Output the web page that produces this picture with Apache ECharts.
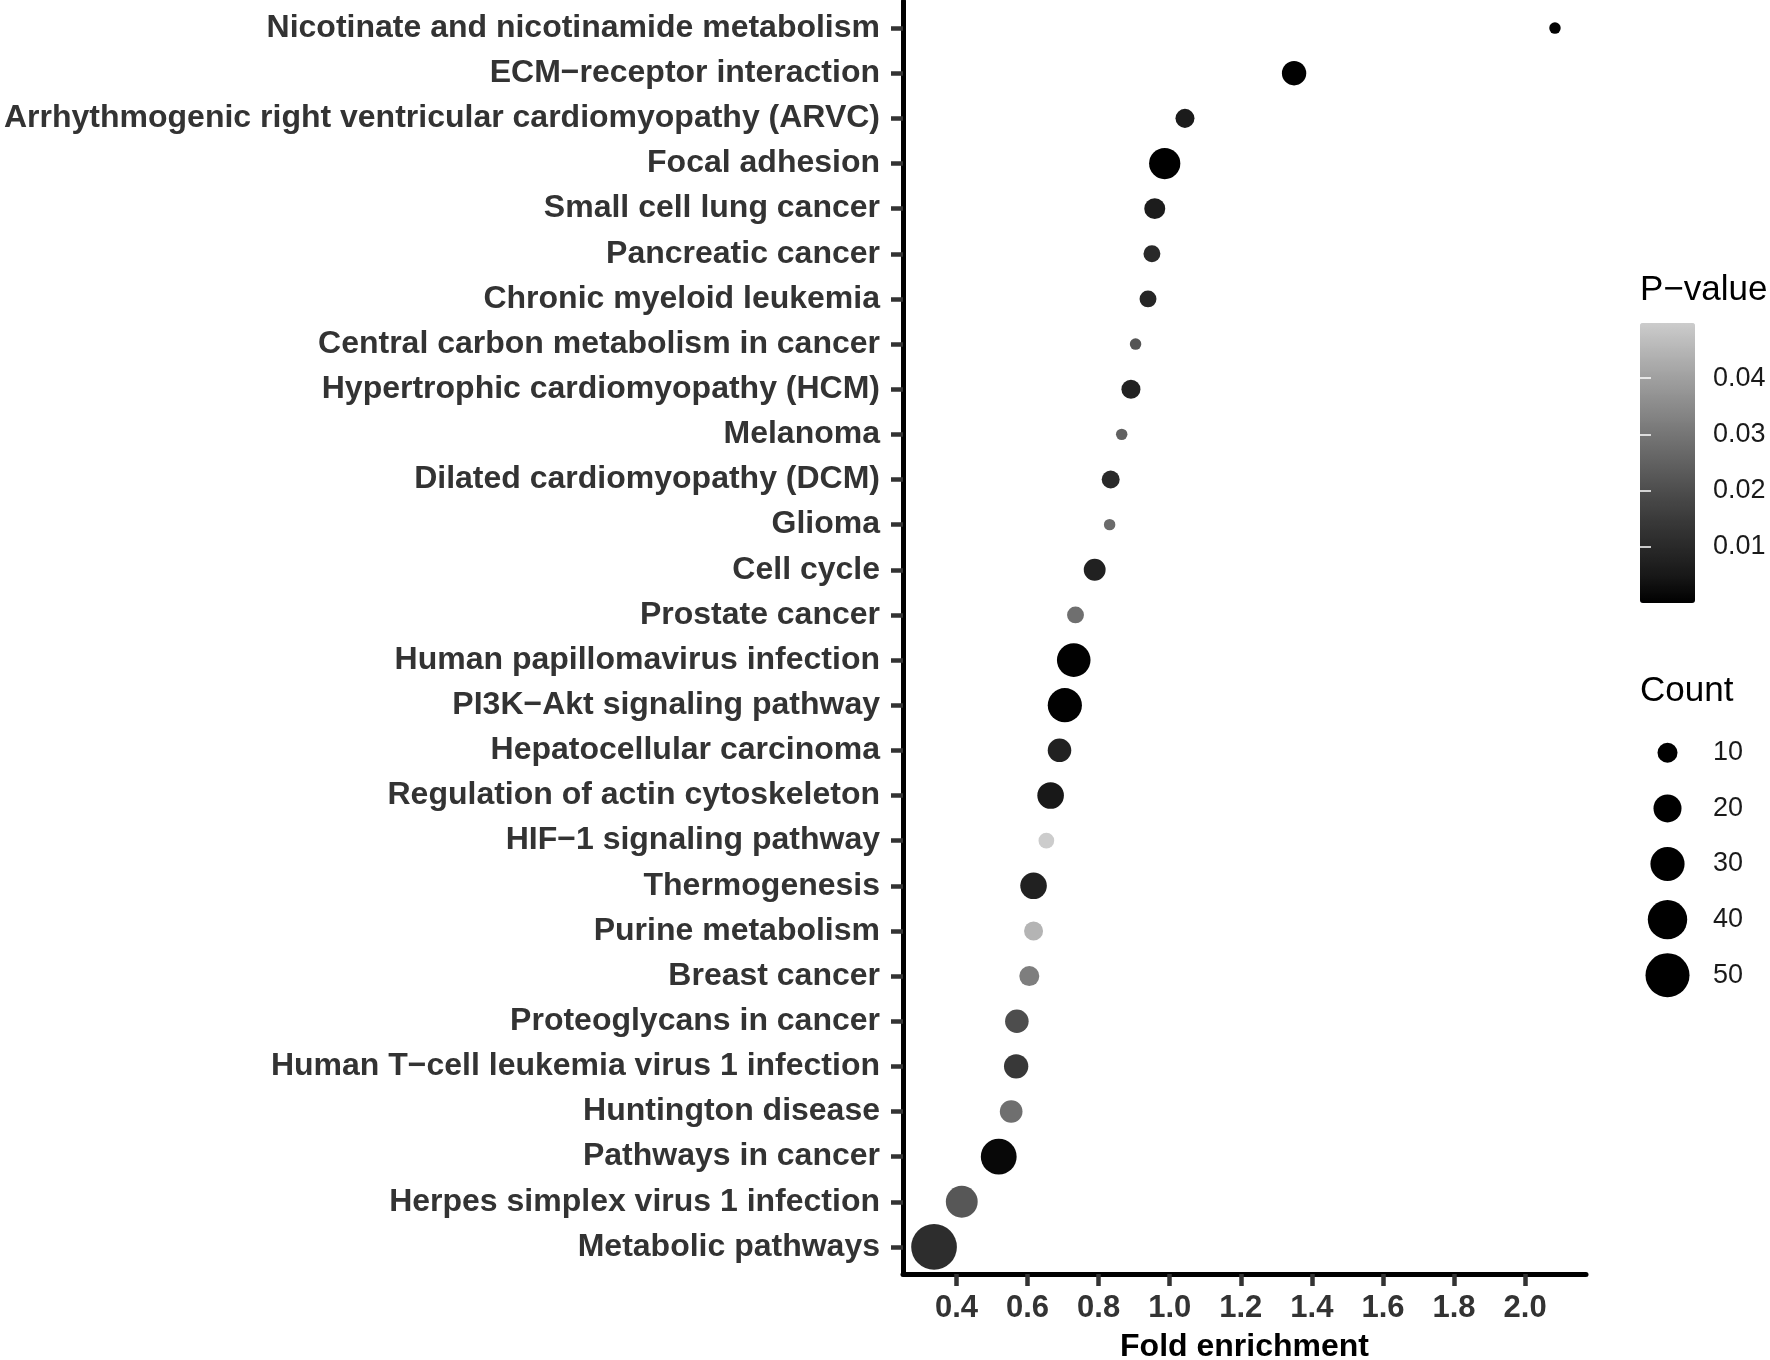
<!DOCTYPE html>
<html><head><meta charset="utf-8">
<script src="https://cdn.jsdelivr.net/npm/echarts@6/dist/echarts.min.js"></script>
<style>html,body{margin:0;padding:0;background:#fff}#c{width:1770px;height:1360px}</style>
</head><body><div id="c"></div>
<script>
// ---- data (top to bottom) ----
const categories = [
  'Nicotinate and nicotinamide metabolism',
  'ECM\u2212receptor interaction',
  'Arrhythmogenic right ventricular cardiomyopathy (ARVC)',
  'Focal adhesion',
  'Small cell lung cancer',
  'Pancreatic cancer',
  'Chronic myeloid leukemia',
  'Central carbon metabolism in cancer',
  'Hypertrophic cardiomyopathy (HCM)',
  'Melanoma',
  'Dilated cardiomyopathy (DCM)',
  'Glioma',
  'Cell cycle',
  'Prostate cancer',
  'Human papillomavirus infection',
  'PI3K\u2212Akt signaling pathway',
  'Hepatocellular carcinoma',
  'Regulation of actin cytoskeleton',
  'HIF\u22121 signaling pathway',
  'Thermogenesis',
  'Purine metabolism',
  'Breast cancer',
  'Proteoglycans in cancer',
  'Human T\u2212cell leukemia virus 1 infection',
  'Huntington disease',
  'Pathways in cancer',
  'Herpes simplex virus 1 infection',
  'Metabolic pathways'
];
const foldEnrichment = [2.084, 1.350, 1.043, 0.986, 0.958, 0.950, 0.939, 0.904, 0.891, 0.865, 0.834, 0.831, 0.789, 0.735, 0.730, 0.705, 0.690, 0.665, 0.653, 0.617, 0.617, 0.605, 0.570, 0.568, 0.554, 0.519, 0.415, 0.337];
const geneCounts = [3, 15, 9, 25, 11, 7, 7, 3, 9, 3, 8, 3, 12, 7, 29, 30, 14, 18, 6, 18, 9, 10, 14, 15, 13, 33, 26, 54];
const pValues = [0.0005, 0.0003, 0.006, 0.00001, 0.0063, 0.010, 0.009, 0.0218, 0.008, 0.0248, 0.010, 0.0273, 0.0075, 0.0283, 0.0002, 0.0002, 0.0075, 0.005, 0.0498, 0.0075, 0.0446, 0.032, 0.0199, 0.0144, 0.0283, 0.0016, 0.0223, 0.011];
const xTicks = [0.4, 0.6, 0.8, 1.0, 1.2, 1.4, 1.6, 1.8, 2.0];
const pTicks = [0.01, 0.02, 0.03, 0.04];
const countLegend = [10, 20, 30, 40, 50];

// ---- styling helpers ----
const FONT = "'Liberation Sans', Arial, Helvetica, sans-serif";
const sizeOf = c => Math.sqrt(16 + 38.4 * c);
const grays = ['#000000','#181818','#292929','#3a3a3a','#4d4d4d','#616161','#757575','#8a8a8a','#9f9f9f','#b5b5b5','#cccccc'];
const pMin = Math.min(...pValues), pMax = Math.max(...pValues);
const fMin = Math.min(...foldEnrichment), fMax = Math.max(...foldEnrichment);
const pad = (fMax - fMin) * 0.05;
const yPos = categories.map((c, i) => i + 1);

const chart = echarts.init(document.getElementById('c'), null, {renderer: 'canvas'});
const option = {
  animation: false,
  backgroundColor: '#ffffff',
  grid: [
    {left: 903, top: 1, width: 683, height: 1273, outerBoundsMode: 'none', containLabel: false},
    {left: 1640, top: 323, width: 55, height: 280, outerBoundsMode: 'none', containLabel: false},
    {left: 1640, top: 725, width: 55, height: 278, outerBoundsMode: 'none', containLabel: false}
  ],
  xAxis: [
    {
      gridIndex: 0, type: 'value', min: fMin - pad, max: fMax + pad,
      name: 'Fold enrichment', nameLocation: 'middle', nameGap: 57,
      nameTextStyle: {fontFamily: FONT, fontWeight: 'bold', fontSize: 32, color: '#000'},
      axisLine: {show: true, lineStyle: {color: '#000', width: 5}},
      axisTick: {show: true, customValues: xTicks, length: 12, lineStyle: {color: '#333', width: 4.5}},
      axisLabel: {customValues: xTicks, formatter: v => v.toFixed(1), margin: 19,
        fontFamily: FONT, fontWeight: 'bold', fontSize: 31, color: '#333'},
      splitLine: {show: false}
    },
    {gridIndex: 1, type: 'value', show: false},
    {gridIndex: 2, type: 'category', data: [''], show: false}
  ],
  yAxis: [
    {
      gridIndex: 0, type: 'value', min: 0.4, max: categories.length + 0.6, inverse: true,
      axisLine: {show: true, lineStyle: {color: '#000', width: 5}},
      axisTick: {show: true, customValues: yPos, length: 12, lineStyle: {color: '#333', width: 4.5}},
      axisLabel: {customValues: yPos, formatter: v => categories[Math.round(v) - 1], margin: 23,
        fontFamily: FONT, fontWeight: 'bold', fontSize: 32, color: '#333'},
      splitLine: {show: false}
    },
    {
      gridIndex: 1, type: 'value', min: pMin, max: pMax, position: 'right', z: 10,
      axisLine: {show: false},
      axisTick: {show: true, inside: true, customValues: pTicks, length: 11, lineStyle: {color: '#fff', width: 1.5}},
      axisLabel: {customValues: pTicks, formatter: v => v.toFixed(2), margin: 18,
        fontFamily: FONT, fontSize: 27, color: '#1a1a1a'},
      splitLine: {show: false}
    },
    {
      gridIndex: 1, type: 'value', min: pMin, max: pMax, position: 'left', z: 10,
      axisLine: {show: false},
      axisTick: {show: true, inside: true, customValues: pTicks, length: 11, lineStyle: {color: '#fff', width: 1.5}},
      axisLabel: {show: false},
      splitLine: {show: false}
    },
    {
      gridIndex: 2, type: 'category', data: countLegend.map(String), inverse: true, position: 'right',
      axisLine: {show: false}, axisTick: {show: false},
      axisLabel: {margin: 18, fontFamily: FONT, fontSize: 27, color: '#1a1a1a'},
      splitLine: {show: false}
    }
  ],
  visualMap: {
    type: 'continuous', seriesIndex: 0, dimension: 3, min: pMin, max: pMax,
    inRange: {color: grays}, left: 1640, top: 323, itemWidth: 55, itemHeight: 280,
    calculable: false, text: null, padding: 0, orient: 'vertical', hoverLink: false
  },
  series: [
    {
      type: 'scatter', xAxisIndex: 0, yAxisIndex: 0,
      data: categories.map((c, i) => [foldEnrichment[i], yPos[i], geneCounts[i], pValues[i], c]),
      symbolSize: v => sizeOf(v[2]),
      itemStyle: {opacity: 1}
    },
    {
      type: 'scatter', xAxisIndex: 2, yAxisIndex: 3,
      data: countLegend.map((c, i) => [0, i, c]),
      symbolSize: v => sizeOf(v[2]),
      itemStyle: {color: '#000', opacity: 1}
    }
  ],
  graphic: [
    {type: 'text', x: 1640, y: 290, style: {text: 'P\u2212value', font: "35px 'Liberation Sans', Arial, sans-serif", fill: '#000', verticalAlign: 'middle'}},
    {type: 'text', x: 1640, y: 691, style: {text: 'Count', font: "35px 'Liberation Sans', Arial, sans-serif", fill: '#000', verticalAlign: 'middle'}}
  ]
};
chart.setOption(option);
</script>
</body></html>
